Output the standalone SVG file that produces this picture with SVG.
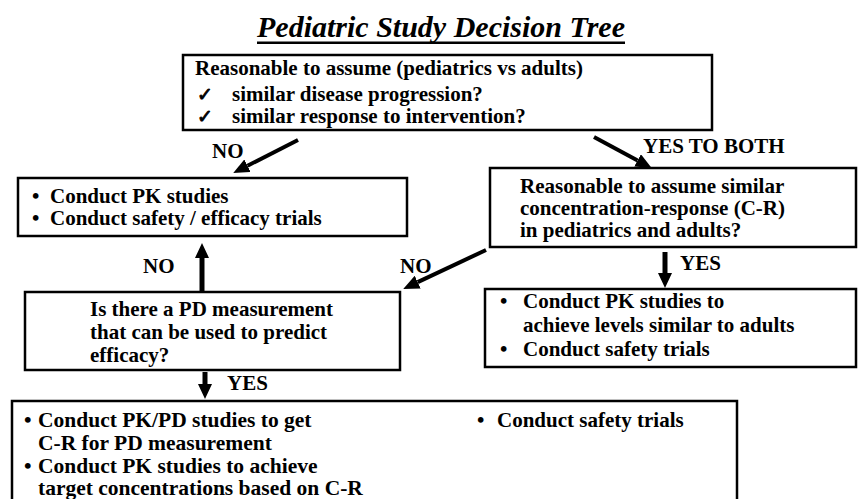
<svg xmlns="http://www.w3.org/2000/svg" width="860" height="499" viewBox="0 0 860 499">
<defs>
<style>
text{font-family:"Liberation Serif","Times New Roman",serif;font-weight:bold;fill:#000;}
.t{font-size:21px;}
.b{font-size:21.5px;}
.title{font-size:30px;font-style:italic;}
.box{fill:#fff;stroke:#000;stroke-width:2.5;}
.chk{font-family:"DejaVu Sans",sans-serif;font-weight:bold;font-size:19px;stroke:#000;stroke-width:0.9;}
.arr{stroke:#000;stroke-width:4;fill:none;marker-end:url(#ah);}
.varr{stroke:#000;stroke-width:5;fill:none;marker-end:url(#vh);}
</style>
<marker id="ah" markerUnits="userSpaceOnUse" markerWidth="16" markerHeight="14" refX="0" refY="7" orient="auto"><path d="M0,0 L16,7 L0,14 z" fill="#000"/></marker>
<marker id="vh" markerUnits="userSpaceOnUse" markerWidth="15" markerHeight="14" refX="0" refY="7" orient="auto"><path d="M0,0 L15,7 L0,14 z" fill="#000"/></marker>
</defs>
<rect width="860" height="499" fill="#fff"/>
<g id="title">
<text class="title" x="441" y="37" text-anchor="middle">Pediatric Study Decision Tree</text>
<rect x="257" y="41.5" width="368" height="2.5" fill="#000"/>
</g>
<g id="n-start">
<rect class="box" x="183" y="55" width="529" height="75"/>
<text class="t" x="195" y="75">Reasonable to assume (pediatrics vs adults)</text>
<text class="chk" x="197" y="101">✓</text>
<text class="t" x="232" y="101">similar disease progression?</text>
<text class="chk" x="197" y="123">✓</text>
<text class="t" x="232" y="123">similar response to intervention?</text>
</g>
<g id="n-pk-efficacy">
<rect class="box" x="18" y="178" width="389" height="58"/>
<text class="t" x="32" y="203">•</text><text class="t" x="50" y="203">Conduct PK studies</text>
<text class="t" x="32" y="225">•</text><text class="t" x="50" y="225">Conduct safety / efficacy trials</text>
</g>
<g id="n-cr">
<rect class="box" x="490" y="168" width="366" height="79"/>
<text class="t" x="520" y="193">Reasonable to assume similar</text>
<text class="t" x="520" y="215">concentration-response (C-R)</text>
<text class="t" x="520" y="237">in pediatrics and adults?</text>
</g>
<g id="n-pk-adults">
<rect class="box" x="485" y="289" width="371" height="78"/>
<text class="t" x="500" y="308">•</text><text class="t" x="523" y="308">Conduct PK studies to</text>
<text class="t" x="523" y="332">achieve levels similar to adults</text>
<text class="t" x="500" y="356">•</text><text class="t" x="523" y="356">Conduct safety trials</text>
</g>
<g id="n-pd">
<rect class="box" x="25" y="292" width="375" height="78"/>
<text class="t" x="90" y="316">Is there a PD measurement</text>
<text class="t" x="90" y="339">that can be used to predict</text>
<text class="t" x="90" y="362">efficacy?</text>
</g>
<g id="n-pkpd">
<rect class="box" x="12" y="401" width="725" height="110"/>
<text class="b" x="24" y="427">•</text><text class="b" x="38" y="427">Conduct PK/PD studies to get</text>
<text class="b" x="38" y="450">C-R for PD measurement</text>
<text class="b" x="24" y="473">•</text><text class="b" x="38" y="473">Conduct PK studies to achieve</text>
<text class="b" x="38" y="495">target concentrations based on C-R</text>
<text class="t" x="477" y="427">•</text><text class="t" x="497" y="427">Conduct safety trials</text>
</g>
<g id="connectors">
<line class="arr" x1="298" y1="140" x2="247.5" y2="165.7"/>
<text class="t" x="212" y="158">NO</text>
<line class="arr" x1="594" y1="137" x2="637.6" y2="160.4"/>
<text class="t" x="643" y="153">YES TO BOTH</text>
<line class="arr" x1="486" y1="250" x2="417.7" y2="282.1"/>
<text class="t" x="400" y="273">NO</text>
<line class="varr" x1="202" y1="292" x2="202" y2="258"/>
<text class="t" x="143" y="273">NO</text>
<line class="varr" x1="665" y1="252" x2="665" y2="273"/>
<text class="t" x="680" y="270">YES</text>
<line class="varr" x1="205" y1="372" x2="205" y2="384"/>
<text class="t" x="227" y="390">YES</text>
</g>
</svg>
